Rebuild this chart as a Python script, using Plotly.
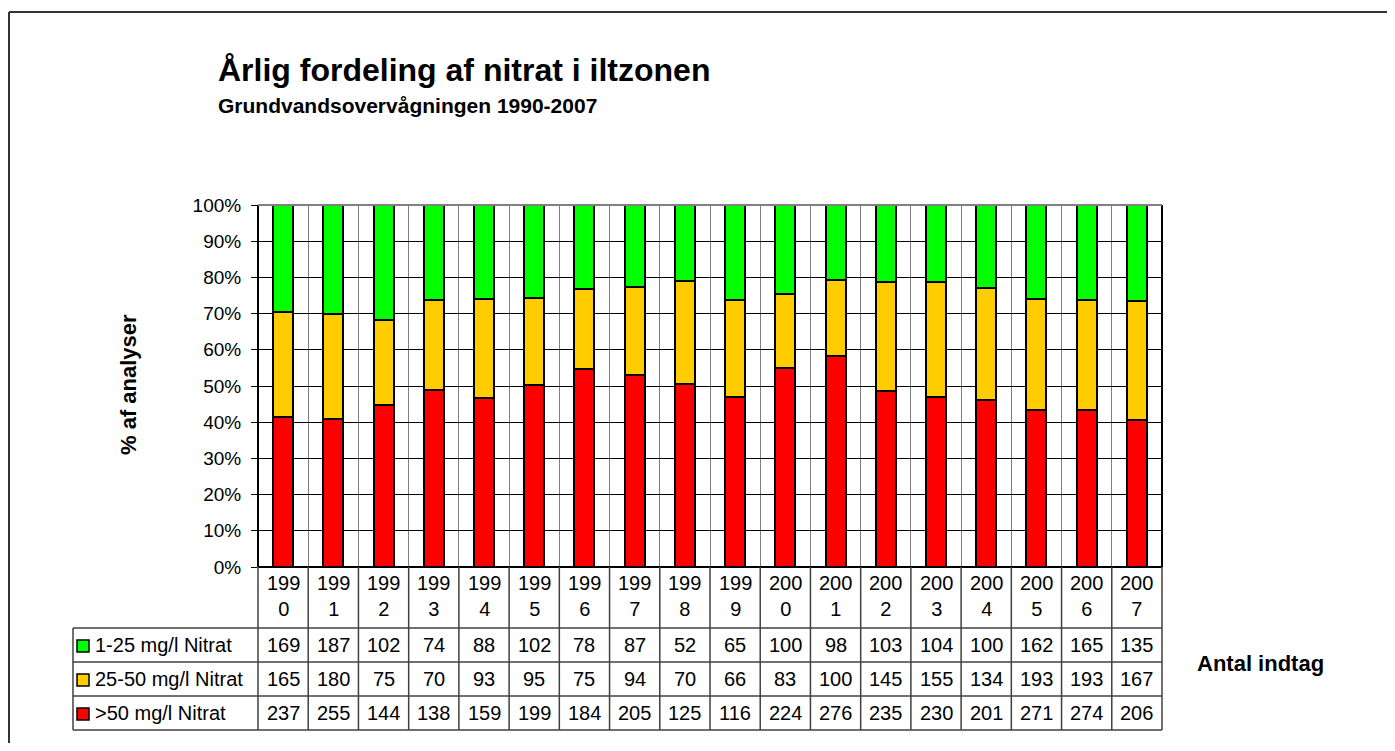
import plotly.graph_objects as go

# ---- data ----
years = [str(y) for y in range(1990, 2008)]
n_low = [169, 187, 102, 74, 88, 102, 78, 87, 52, 65, 100, 98, 103, 104, 100, 162, 165, 135]      # 1-25 mg/l
n_mid = [165, 180, 75, 70, 93, 95, 75, 94, 70, 66, 83, 100, 145, 155, 134, 193, 193, 167]        # 25-50 mg/l
n_high = [237, 255, 144, 138, 159, 199, 184, 205, 125, 116, 224, 276, 235, 230, 201, 271, 274, 206]  # >50 mg/l
series_labels = ["1-25 mg/l Nitrat", "25-50 mg/l Nitrat", ">50 mg/l Nitrat"]
y_ticks = [0, 10, 20, 30, 40, 50, 60, 70, 80, 90, 100]
y_ticktext = [f"{v}%" for v in y_ticks]

title = "Årlig fordeling af nitrat i iltzonen"
subtitle = "Grundvandsovervågningen 1990-2007"
y_title = "% af analyser"
table_title = "Antal indtag"

# ---- styling / layout geometry (screen pixel coords; page body has 8px margin) ----
OFF = 8
W, H = 1379, 735
L, R, T, B = 258, 1162, 205, 567   # plot area on screen
FONT = "Liberation Sans, Arial, sans-serif"
C_GREEN, C_YELLOW, C_RED = "#00FF00", "#FFCC00", "#FF0000"


def xp(px):
    return (px - L) / (R - L)


def yp(py):
    return (B - py) / (B - T)


totals = [a + b + c for a, b, c in zip(n_low, n_mid, n_high)]
x = list(range(len(years)))

fig = go.Figure()
for vals, color in [(n_high, C_RED), (n_mid, C_YELLOW), (n_low, C_GREEN)]:
    pct = [v / t * 100 for v, t in zip(vals, totals)]
    fig.add_bar(x=x, y=pct, width=0.4,
                marker=dict(color=color, line=dict(color="black", width=2)),
                hoverinfo="skip")

shapes = []
annotations = []
n = len(years)

# plot border
shapes.append(dict(type="line", xref="paper", yref="paper", x0=0, x1=0, y0=0, y1=1,
                   line=dict(color="black", width=2), layer="above"))
shapes.append(dict(type="line", xref="paper", yref="paper", x0=1, x1=1, y0=0, y1=1,
                   line=dict(color="black", width=2), layer="above"))
shapes.append(dict(type="line", xref="paper", yref="paper", x0=0, x1=1, y0=0, y1=0,
                   line=dict(color="black", width=2), layer="above"))
shapes.append(dict(type="line", xref="paper", yref="paper", x0=0, x1=1, y0=1, y1=1,
                   line=dict(color="#808080", width=2), layer="above"))

# outer frame (left/top visible)
shapes.append(dict(type="line", xref="paper", yref="paper", x0=xp(9), x1=xp(9), y0=yp(12), y1=yp(800),
                   line=dict(color="#333333", width=2)))
shapes.append(dict(type="line", xref="paper", yref="paper", x0=xp(9), x1=xp(1450), y0=yp(12), y1=yp(12),
                   line=dict(color="#333333", width=2)))

# data table grid
row_lines = [628, 662, 696, 730]
tcol = "#404040"
for py in row_lines:
    shapes.append(dict(type="line", xref="paper", yref="paper", x0=xp(73), x1=1, y0=yp(py), y1=yp(py),
                       line=dict(color=tcol, width=1.5)))
for k in range(n + 1):
    shapes.append(dict(type="line", xref="paper", yref="paper", x0=k / n, x1=k / n, y0=yp(730), y1=0,
                       line=dict(color=tcol, width=1.5)))
shapes.append(dict(type="line", xref="paper", yref="paper", x0=xp(73), x1=xp(73), y0=yp(730), y1=yp(628),
                   line=dict(color=tcol, width=1.5)))

tfont = dict(family=FONT, size=20, color="black")
# header (years)
for i, yr in enumerate(years):
    annotations.append(dict(x=i, y=yp(596), xref="x", yref="paper", text=f"{yr[:3]}<br>{yr[3:]}",
                            showarrow=False, font=tfont, xanchor="center", yanchor="middle"))
# rows
row_centers = [645, 679, 713]
for vals, label, color, cy in zip([n_low, n_mid, n_high], series_labels,
                                  [C_GREEN, C_YELLOW, C_RED], row_centers):
    for i, v in enumerate(vals):
        annotations.append(dict(x=i, y=yp(cy), xref="x", yref="paper", text=str(v),
                                showarrow=False, font=tfont, xanchor="center", yanchor="middle"))
    annotations.append(dict(x=xp(93), y=yp(cy), xref="paper", yref="paper", text=label,
                            showarrow=False, font=tfont, xanchor="left", yanchor="middle"))
    shapes.append(dict(type="rect", xref="paper", yref="paper", x0=xp(77), x1=xp(89),
                       y0=yp(cy + 7), y1=yp(cy - 5), fillcolor=color,
                       line=dict(color="black", width=1.5)))

# titles
annotations.append(dict(x=xp(216), y=yp(70), xref="paper", yref="paper", text=f"<b>{title}</b>",
                        showarrow=False, xanchor="left", yanchor="middle",
                        font=dict(family=FONT, size=32, color="black")))
annotations.append(dict(x=xp(216), y=yp(105), xref="paper", yref="paper", text=f"<b>{subtitle}</b>",
                        showarrow=False, xanchor="left", yanchor="middle",
                        font=dict(family=FONT, size=21, color="black")))
annotations.append(dict(x=xp(128), y=yp(385), xref="paper", yref="paper", text=f"<b>{y_title}</b>",
                        showarrow=False, xanchor="center", yanchor="middle", textangle=-90,
                        font=dict(family=FONT, size=22, color="black")))
annotations.append(dict(x=xp(1195), y=yp(663), xref="paper", yref="paper", text=f"<b>{table_title}</b>",
                        showarrow=False, xanchor="left", yanchor="middle",
                        font=dict(family=FONT, size=22, color="black")))

fig.update_layout(
    width=W, height=H, autosize=False,
    margin=dict(l=L - OFF, r=W - (R - OFF), t=T - OFF, b=H - (B - OFF), pad=0),
    barmode="stack", bargap=0,
    showlegend=False,
    paper_bgcolor="white", plot_bgcolor="white",
    shapes=shapes, annotations=annotations,
    xaxis=dict(range=[-0.5, n - 0.5], tickvals=[i + 0.5 for i in range(n - 1)],
               showgrid=True, gridcolor="#808080", gridwidth=1,
               showticklabels=False, ticks="", zeroline=False, showline=False, fixedrange=True),
    yaxis=dict(range=[0, 100], tickvals=y_ticks, ticktext=y_ticktext,
               showgrid=True, gridcolor="black", gridwidth=1,
               ticks="outside", ticklen=6, tickcolor="black", tickwidth=1,
               ticklabelstandoff=6,
               tickfont=dict(family=FONT, size=19, color="black"),
               zeroline=False, showline=False, fixedrange=True),
)

fig.write_html("out.html")
